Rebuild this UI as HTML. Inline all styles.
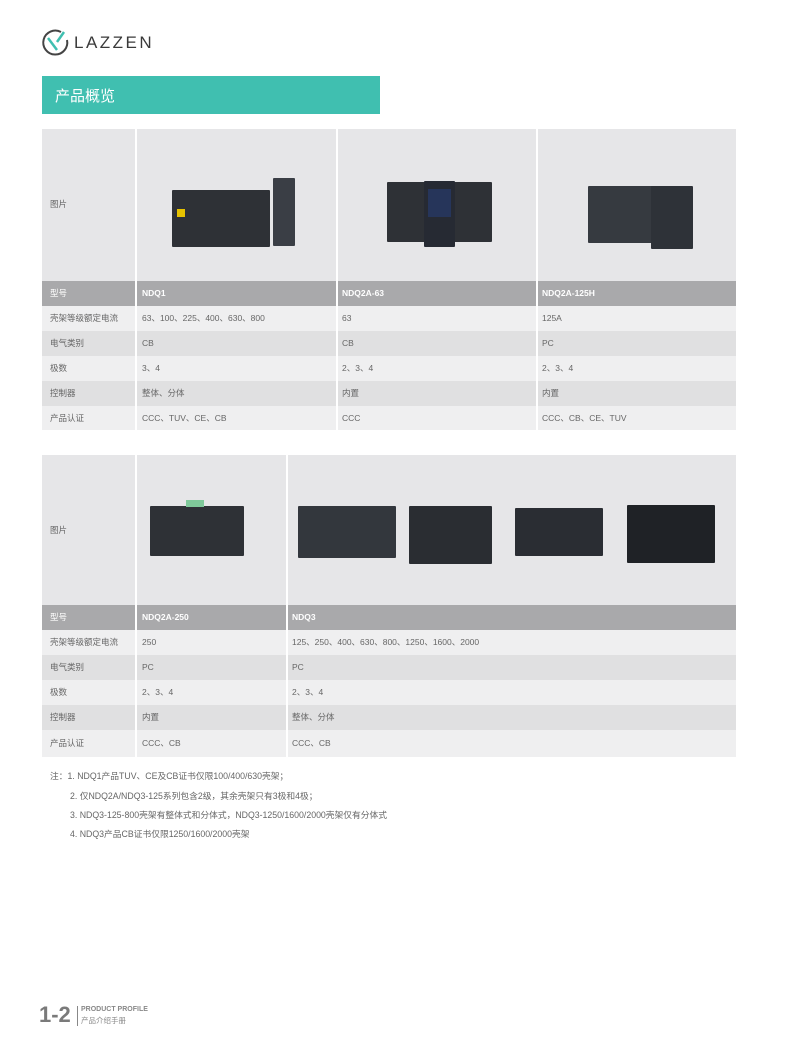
<!DOCTYPE html>
<html><head><meta charset="utf-8"><style>
*{margin:0;padding:0;box-sizing:border-box}
body{width:791px;height:1055px;background:#fff;position:relative;overflow:hidden;font-family:"Liberation Sans","Noto Sans CJK SC",sans-serif;color:#666}
.a{position:absolute}
.t{font-size:8.5px;line-height:25px;white-space:nowrap}
.n{font-size:8.75px}
.prod{position:absolute;background:#2e3136;border-radius:1px}
</style></head><body>
<svg class="a" style="left:40px;top:28px" width="30" height="30" viewBox="0 0 30 30">
<path d="M21 4 A12 12 0 1 0 27 12" fill="none" stroke="#444" stroke-width="2"/>
<line x1="8" y1="10" x2="17" y2="22" stroke="#3fbfb0" stroke-width="2.5"/>
<line x1="17" y1="14" x2="24" y2="4" stroke="#3fbfb0" stroke-width="2.5"/>
</svg>
<div class="a" style="left:74px;top:33px;font-size:17px;letter-spacing:2.5px;color:#3a3a3a">LAZZEN</div>
<div class="a" style="left:42px;top:76px;width:338px;height:38px;background:#40bfb0"></div>
<div class="a" style="left:55px;top:85px;font-size:15px;color:#fff">产品概览</div>

<div class="a" style="left:42px;top:129px;width:694px;height:152px;background:#e6e6e8"></div>
<div class="a" style="left:135px;top:129px;width:2px;height:301px;background:#fff"></div>
<div class="a" style="left:336px;top:129px;width:2px;height:301px;background:#fff"></div>
<div class="a" style="left:536px;top:129px;width:2px;height:301px;background:#fff"></div>
<div class="a t" style="left:50px;top:192px">图片</div>
<div class="prod" style="left:172px;top:190px;width:98px;height:57px"></div>
<div class="prod" style="left:273px;top:178px;width:22px;height:68px;background:#3a3e45"></div>
<div class="a" style="left:177px;top:209px;width:8px;height:8px;background:#e6c200"></div>
<div class="prod" style="left:387px;top:182px;width:105px;height:60px"></div>
<div class="prod" style="left:424px;top:181px;width:31px;height:66px;background:#262a33"></div>
<div class="a" style="left:428px;top:189px;width:23px;height:28px;background:#26355a"></div>
<div class="prod" style="left:588px;top:186px;width:68px;height:57px;background:#363a40"></div>
<div class="prod" style="left:651px;top:186px;width:42px;height:63px;background:#2e3238"></div>
<div class="a" style="left:42px;top:281px;width:694px;height:25px;background:#a9a9ab"></div>
<div class="a" style="left:42px;top:306px;width:694px;height:25px;background:#efeff0"></div>
<div class="a" style="left:42px;top:331px;width:694px;height:25px;background:#e0e0e1"></div>
<div class="a" style="left:42px;top:356px;width:694px;height:25px;background:#efeff0"></div>
<div class="a" style="left:42px;top:381px;width:694px;height:25px;background:#e0e0e1"></div>
<div class="a" style="left:42px;top:406px;width:694px;height:24px;background:#efeff0"></div>
<div class="a" style="left:135px;top:281px;width:2px;height:149px;background:#fff"></div>
<div class="a" style="left:336px;top:281px;width:2px;height:149px;background:#fff"></div>
<div class="a" style="left:536px;top:281px;width:2px;height:149px;background:#fff"></div>
<div class="a t" style="left:50px;top:281px;color:#fff">型号</div>
<div class="a t" style="left:142px;top:281px;color:#fff;font-weight:bold">NDQ1</div>
<div class="a t" style="left:342px;top:281px;color:#fff;font-weight:bold">NDQ2A-63</div>
<div class="a t" style="left:542px;top:281px;color:#fff;font-weight:bold">NDQ2A-125H</div>
<div class="a t" style="left:50px;top:306px">壳架等级额定电流</div><div class="a t" style="left:142px;top:306px">63、100、225、400、630、800</div><div class="a t" style="left:342px;top:306px">63</div><div class="a t" style="left:542px;top:306px">125A</div>
<div class="a t" style="left:50px;top:331px">电气类别</div><div class="a t" style="left:142px;top:331px">CB</div><div class="a t" style="left:342px;top:331px">CB</div><div class="a t" style="left:542px;top:331px">PC</div>
<div class="a t" style="left:50px;top:356px">极数</div><div class="a t" style="left:142px;top:356px">3、4</div><div class="a t" style="left:342px;top:356px">2、3、4</div><div class="a t" style="left:542px;top:356px">2、3、4</div>
<div class="a t" style="left:50px;top:381px">控制器</div><div class="a t" style="left:142px;top:381px">整体、分体</div><div class="a t" style="left:342px;top:381px">内置</div><div class="a t" style="left:542px;top:381px">内置</div>
<div class="a t" style="left:50px;top:406px">产品认证</div><div class="a t" style="left:142px;top:406px">CCC、TUV、CE、CB</div><div class="a t" style="left:342px;top:406px">CCC</div><div class="a t" style="left:542px;top:406px">CCC、CB、CE、TUV</div>

<div class="a" style="left:42px;top:455px;width:694px;height:150px;background:#e6e6e8"></div>
<div class="a t" style="left:50px;top:518px">图片</div>
<div class="prod" style="left:150px;top:506px;width:94px;height:50px"></div>
<div class="a" style="left:186px;top:500px;width:18px;height:7px;background:#7fc99a"></div>
<div class="prod" style="left:298px;top:506px;width:98px;height:52px;background:#33373d"></div>
<div class="prod" style="left:409px;top:506px;width:83px;height:58px;background:#2a2d32"></div>
<div class="prod" style="left:515px;top:508px;width:88px;height:48px;background:#2a2d33"></div>
<div class="prod" style="left:627px;top:505px;width:88px;height:58px;background:#1f2226"></div>
<div class="a" style="left:42px;top:605px;width:694px;height:25px;background:#a9a9ab"></div>
<div class="a" style="left:42px;top:630px;width:694px;height:25px;background:#efeff0"></div>
<div class="a" style="left:42px;top:655px;width:694px;height:25px;background:#e0e0e1"></div>
<div class="a" style="left:42px;top:680px;width:694px;height:25px;background:#efeff0"></div>
<div class="a" style="left:42px;top:705px;width:694px;height:25px;background:#e0e0e1"></div>
<div class="a" style="left:42px;top:730px;width:694px;height:27px;background:#efeff0"></div>
<div class="a" style="left:135px;top:455px;width:2px;height:302px;background:#fff"></div>
<div class="a" style="left:286px;top:455px;width:2px;height:302px;background:#fff"></div>
<div class="a t" style="left:50px;top:605px;color:#fff">型号</div>
<div class="a t" style="left:142px;top:605px;color:#fff;font-weight:bold">NDQ2A-250</div>
<div class="a t" style="left:292px;top:605px;color:#fff;font-weight:bold">NDQ3</div>
<div class="a t" style="left:50px;top:630px">壳架等级额定电流</div><div class="a t" style="left:142px;top:630px">250</div><div class="a t" style="left:292px;top:630px">125、250、400、630、800、1250、1600、2000</div>
<div class="a t" style="left:50px;top:655px">电气类别</div><div class="a t" style="left:142px;top:655px">PC</div><div class="a t" style="left:292px;top:655px">PC</div>
<div class="a t" style="left:50px;top:680px">极数</div><div class="a t" style="left:142px;top:680px">2、3、4</div><div class="a t" style="left:292px;top:680px">2、3、4</div>
<div class="a t" style="left:50px;top:705px">控制器</div><div class="a t" style="left:142px;top:705px">内置</div><div class="a t" style="left:292px;top:705px">整体、分体</div>
<div class="a t" style="left:50px;top:731px">产品认证</div><div class="a t" style="left:142px;top:731px">CCC、CB</div><div class="a t" style="left:292px;top:731px">CCC、CB</div>

<div class="a t n" style="left:50px;top:764px">注：1. NDQ1产品TUV、CE及CB证书仅限100/400/630壳架；</div>
<div class="a t n" style="left:70px;top:784px">2. 仅NDQ2A/NDQ3-125系列包含2级，其余壳架只有3极和4极；</div>
<div class="a t n" style="left:70px;top:803px">3. NDQ3-125-800壳架有整体式和分体式，NDQ3-1250/1600/2000壳架仅有分体式</div>
<div class="a t n" style="left:70px;top:822px">4. NDQ3产品CB证书仅限1250/1600/2000壳架</div>

<div class="a" style="left:39px;top:1002px;font-size:22px;font-weight:bold;color:#7a7a7a">1-2</div>
<div class="a" style="left:77px;top:1006px;width:1px;height:20px;background:#888"></div>
<div class="a" style="left:81px;top:1006px;font-size:7px;font-weight:bold;color:#888">PRODUCT PROFILE</div>
<div class="a" style="left:81px;top:1015px;font-size:7.5px;color:#888">产品介绍手册</div>
</body></html>
